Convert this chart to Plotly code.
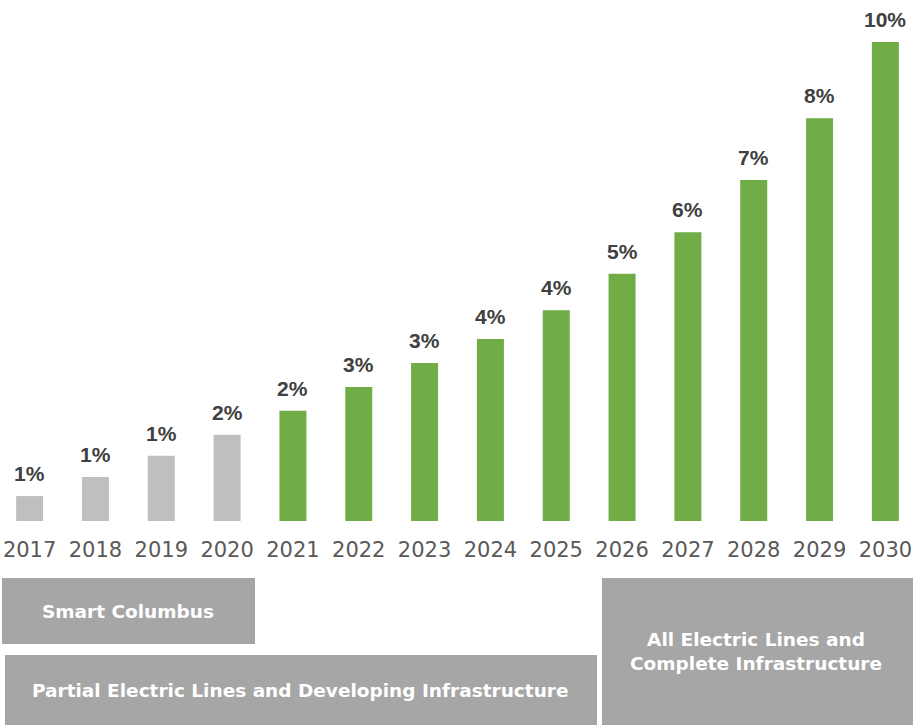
import plotly.graph_objects as go

# Share of transit fleet / ridership growth by year (percent)
years = ["2017", "2018", "2019", "2020", "2021", "2022", "2023",
         "2024", "2025", "2026", "2027", "2028", "2029", "2030"]
share_pct = [0.52, 0.92, 1.36, 1.80, 2.30, 2.80, 3.30,
             3.80, 4.40, 5.16, 6.03, 7.12, 8.41, 10.0]
phase = ["pilot"] * 4 + ["rollout"] * 10

phase_labels = ["Smart Columbus",
                "Partial Electric Lines and Developing Infrastructure",
                "All Electric Lines and<br>Complete Infrastructure"]

GRAY_BAR = "#bfbfbf"
GREEN_BAR = "#70ad47"
BOX_GRAY = "#a6a6a6"
FONT = "Liberation Sans, Arial, sans-serif"
WIDE_FONT = "DejaVu Sans, sans-serif"

bar_colors = [GRAY_BAR if p == "pilot" else GREEN_BAR for p in phase]

fig = go.Figure()
fig.add_trace(go.Bar(
    x=years, y=share_pct,
    marker=dict(color=bar_colors, line=dict(width=0)),
    width=0.41,
    hoverinfo="skip",
))

# value labels above each bar (category axis -> positional index)
for i, v in enumerate(share_pct):
    fig.add_annotation(
        x=i, y=v, xref="x", yref="y",
        text=f"<b>{v:.0f}%</b>",
        showarrow=False, yanchor="bottom", yshift=9,
        font=dict(family=FONT, size=21, color="#404040"),
    )

# plot area spans pixel rows 0..521 of a 725 px tall figure
H = 725
PLOT_BOTTOM = 521


def py(pix):
    """Convert a pixel row to paper y coordinate."""
    return (PLOT_BOTTOM - pix) / PLOT_BOTTOM


def px(pix):
    """Convert a pixel column to paper x coordinate."""
    return pix / 915


boxes = [
    (2, 255, 578, 644),
    (5, 597, 655, 725),
    (602, 913, 578, 725),
]
text_centers = [(128, 611), (300, 690), (756, 651)]

for (x0, x1, y0, y1), (cx, cy), label in zip(boxes, text_centers, phase_labels):
    fig.add_shape(type="rect", xref="paper", yref="paper",
                  x0=px(x0), x1=px(x1), y0=py(y0), y1=py(y1),
                  fillcolor=BOX_GRAY, line=dict(width=0), layer="below")
    fig.add_annotation(x=px(cx), y=py(cy), xref="paper", yref="paper",
                       text=f"<b>{label}</b>", showarrow=False,
                       xanchor="center", yanchor="middle",
                       font=dict(family=WIDE_FONT, size=18.5, color="white"))

fig.update_layout(
    width=915, height=H,
    margin=dict(l=0, r=0, t=0, b=H - PLOT_BOTTOM),
    plot_bgcolor="white", paper_bgcolor="white",
    showlegend=False,
    xaxis=dict(
        type="category", range=[-0.45, 13.45],
        showgrid=False, zeroline=False, showline=False, ticks="",
        tickfont=dict(family=WIDE_FONT, size=21, color="#595959"),
        ticklabelstandoff=14,
    ),
    yaxis=dict(
        range=[0, 10 * PLOT_BOTTOM / 479],
        showgrid=False, zeroline=False, showline=False,
        showticklabels=False, ticks="",
    ),
)

fig.write_html("out.html")
